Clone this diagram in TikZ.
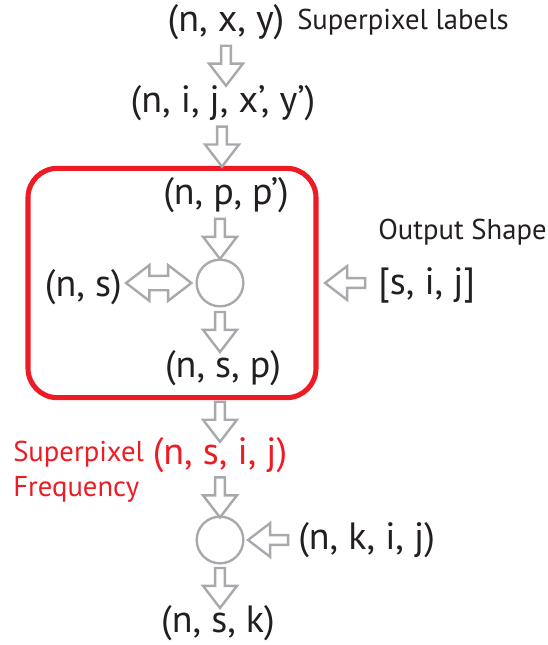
\documentclass[tikz,border=0pt]{standalone}
\usepackage{fontspec}
\setmainfont{PT Sans}
\usetikzlibrary{positioning,shapes.arrows}
\definecolor{arrowgray}{RGB}{167,169,172}
\definecolor{markred}{RGB}{237,28,36}
\definecolor{inkblack}{RGB}{35,31,32}
\begin{document}
\begin{tikzpicture}[x=0.75pt, y=-0.75pt,
					every node/.style={inner sep=0pt, text=inkblack},
					shapelbl/.style={font=\fontsize{28.5}{32}\selectfont},
					notelbl/.style={font=\fontsize{21.5}{26}\selectfont},
					opcircle/.style={circle, draw=arrowgray, line width=1.8pt, minimum size=35pt},
					blkarrow/.style={single arrow, draw=arrowgray, line width=1.8pt, fill=white,
						inner ysep=2.8pt, minimum height=30pt, minimum width=25pt, single arrow head extend=9pt,
						single arrow tip angle=75, sloped, allow upside down},
					dblarrow/.style={double arrow, draw=arrowgray, line width=1.8pt, fill=white,
						inner ysep=4.5pt, minimum height=49pt, minimum width=25pt, double arrow head extend=8pt,
						double arrow tip angle=75, sloped, allow upside down}]
					\useasboundingbox (0,0) rectangle (548,645);
					% input side
					\node[shapelbl] (nxy) at (226,22) {(n, x, y)};
					\node[notelbl, anchor=west] (splbl) at (297,22) {Superpixel labels};
					\node[shapelbl] (nijxy) at (223,103) {(n, i, j, x’, y’)};
					% red block
					\node[draw=markred, line width=3.8pt, rounded corners=22pt,
						minimum width=216pt, minimum height=172pt] (block) at (172,283) {};
					\node[shapelbl] (npp) at (226,195) {(n, p, p’)};
					\node[opcircle] (opa) at (220,283) {};
					\node[shapelbl, anchor=east] (ns) at (122,287) {(n, s)};
					\node[shapelbl] (nsp) at (223,368) {(n, s, p)};
					\node[notelbl, anchor=west] (outlbl) at (378,232) {Output Shape};
					\node[shapelbl, anchor=west] (sij) at (378,285) {[s, i, j]};
					% frequency and output
					\node[shapelbl, text=markred] (nsij) at (220,455) {(n, s, i, j)};
					\node[notelbl, text=markred, anchor=west, align=left] (freqlbl) at (13,472) {Superpixel\\Frequency};
					\node[opcircle] (opb) at (220,540) {};
					\node[shapelbl, anchor=west] (nkij) at (298,540) {(n, k, i, j)};
					\node[shapelbl] (nsk) at (218,623) {(n, s, k)};
					% block arrows
					\path (nxy.south -| 226,0) -- node[blkarrow] {} (nijxy.north -| 226,0);
					\path (nijxy.south -| 222,0) -- node[blkarrow] {} (block.north -| 222,0);
					\path (opa |- npp.south) -- node[blkarrow] {} (opa.north);
					\path (opa.south) -- node[blkarrow] {} (opa |- nsp.north);
					\path (ns.east |- opa) -- node[dblarrow] {} (opa.west);
					\path (sij.west |- opa) -- node[blkarrow] {} (opa -| block.east);
					\path (opb |- block.south) -- node[blkarrow] {} (opb |- nsij.north);
					\path (opb |- nsij.south) -- node[blkarrow] {} (opb.north);
					\path (nkij.west) -- node[blkarrow] {} (opb.east);
					\path (opb.south) -- node[blkarrow] {} (opb |- nsk.north);
				\end{tikzpicture}
\end{document}
